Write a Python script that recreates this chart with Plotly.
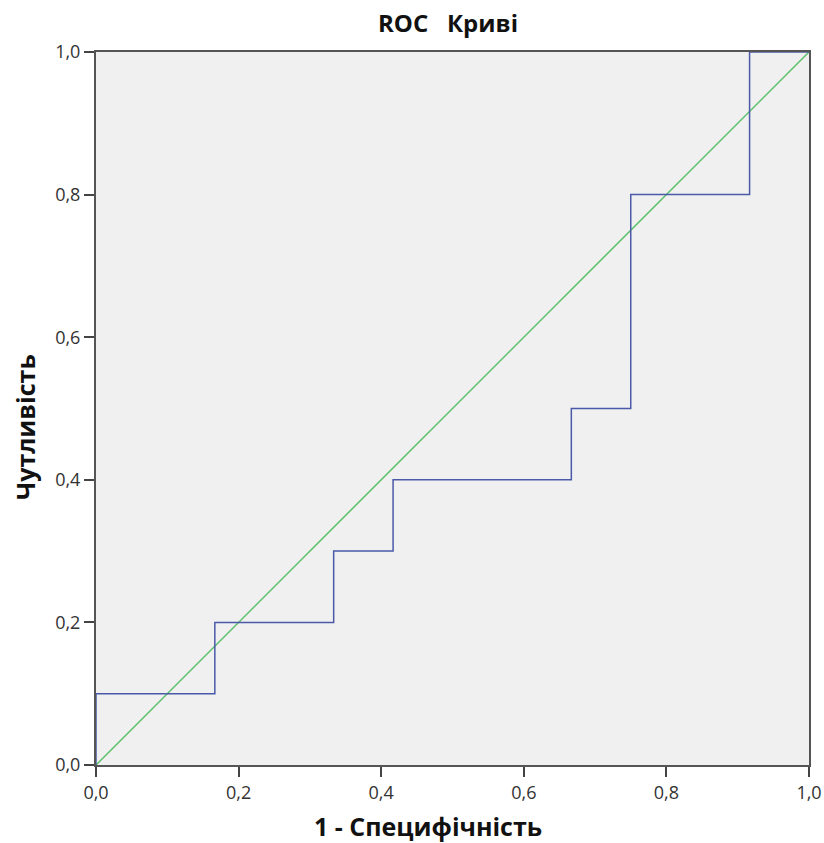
import plotly.graph_objects as go

# ROC step curve (1 - specificity, sensitivity)
fpr = [0, 0, 2/12, 2/12, 4/12, 4/12, 5/12, 5/12, 8/12, 8/12, 9/12, 9/12, 11/12, 11/12, 1.0]
tpr = [0, 0.1, 0.1, 0.2, 0.2, 0.3, 0.3, 0.4, 0.4, 0.5, 0.5, 0.8, 0.8, 1.0, 1.0]
ref_x = [0, 1]
ref_y = [0, 1]
tick_vals = [0, 0.2, 0.4, 0.6, 0.8, 1.0]
tick_text = ["0,0", "0,2", "0,4", "0,6", "0,8", "1,0"]

fig = go.Figure()
fig.add_trace(go.Scatter(x=ref_x, y=ref_y, mode="lines",
                         line=dict(color="#5cbf6a", width=1.5), showlegend=False))
fig.add_trace(go.Scatter(x=fpr, y=tpr, mode="lines",
                         line=dict(color="#4a5aa8", width=1.5), showlegend=False))

axis_common = dict(range=[0, 1], tickvals=tick_vals, ticktext=tick_text,
                   ticks="outside", ticklen=10, tickwidth=2, tickcolor="#444",
                   showgrid=False, zeroline=False, showline=True, linewidth=2,
                   linecolor="#555", mirror=True, automargin=False,
                   tickfont=dict(family="Open Sans", size=18, color="#333"))

fig.update_layout(
    width=824, height=843,
    margin=dict(l=96, r=15, t=52, b=78),
    paper_bgcolor="white", plot_bgcolor="#f0f0f0",
    xaxis=dict(**axis_common),
    yaxis=dict(**axis_common),
    annotations=[
        dict(text="<b>ROC&nbsp;&nbsp;&nbsp;Криві</b>", xref="paper", yref="paper",
             x=0.4937, y=1.0407, xanchor="center", yanchor="middle", showarrow=False,
             font=dict(family="Open Sans", size=24, color="#111")),
        dict(text="<b>1 - Специфічність</b>", xref="paper", yref="paper",
             x=0.4656, y=-0.0856, xanchor="center", yanchor="middle", showarrow=False,
             font=dict(family="Open Sans", size=25, color="#111")),
        dict(text="<b>Чутливість</b>", xref="paper", yref="paper", textangle=-90,
             x=-0.0996, y=0.474, xanchor="center", yanchor="middle", showarrow=False,
             font=dict(family="Open Sans", size=25, color="#111")),
    ],
)

fig.write_html(
    "out.html",
    config={"displayModeBar": False},
    post_script="document.body.style.margin='0';document.body.style.overflow='hidden';",
)
